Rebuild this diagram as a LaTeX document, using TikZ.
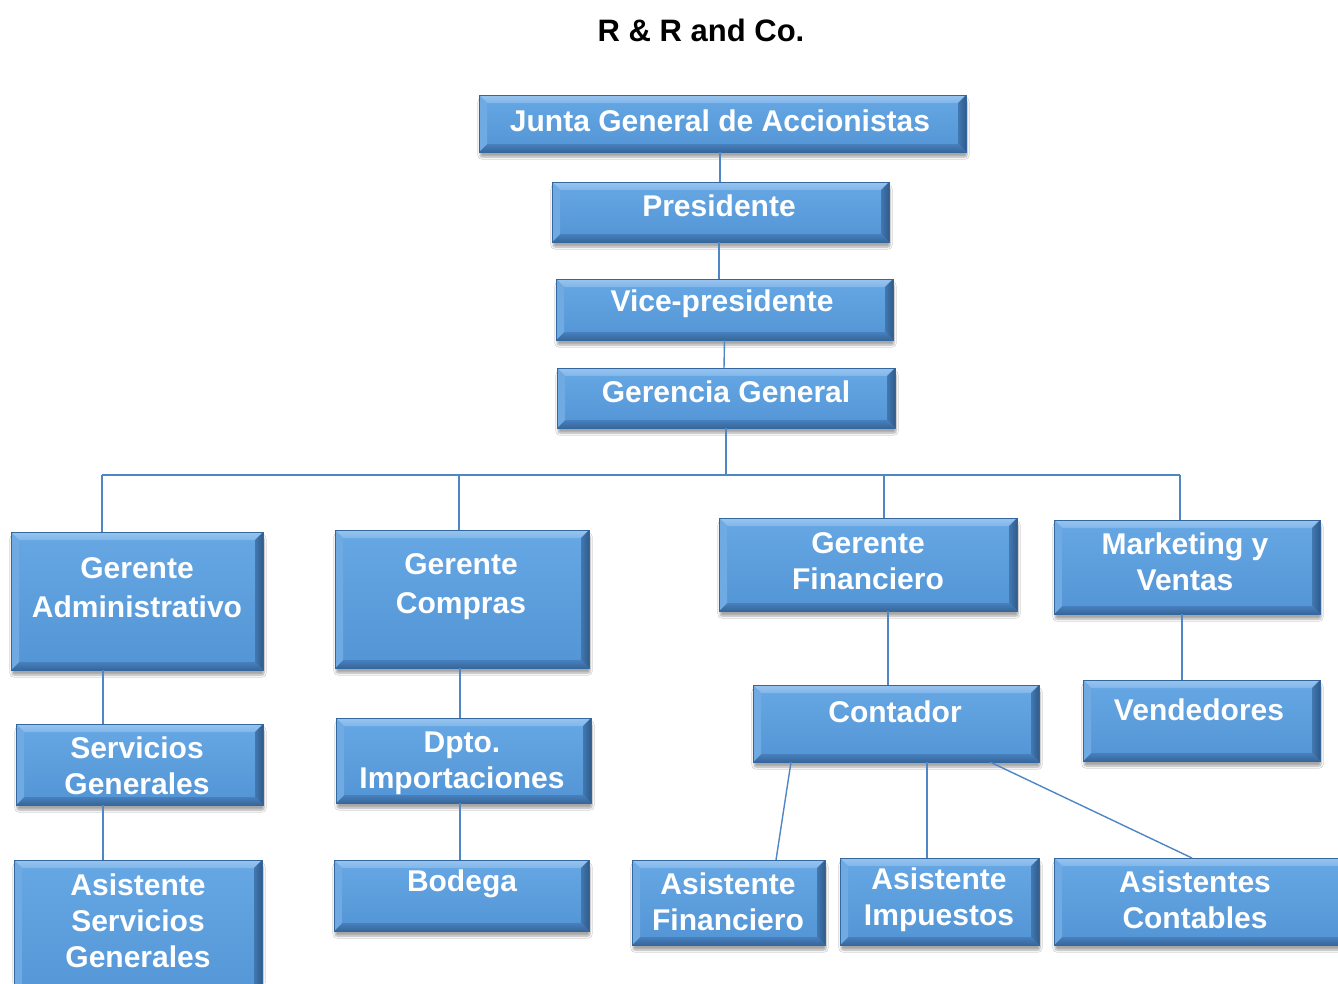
\documentclass[tikz,border=0pt]{standalone}
\usepackage{fontspec}
\setmainfont{Liberation Sans}
\usetikzlibrary{shadows,shadows.blur}
\definecolor{boxfill}{HTML}{5C9DDB}
\definecolor{facetop}{HTML}{66A7E4}
\definecolor{facebot}{HTML}{5394D5}
\definecolor{bevtop}{HTML}{80B6EA}
\definecolor{bevleft}{HTML}{70AAE3}
\definecolor{bevbot}{HTML}{4680BE}
\definecolor{bevright}{HTML}{3A6CA3}
\definecolor{edgecol}{HTML}{33679E}
\definecolor{conn}{HTML}{4F86C6}
\tikzset{
  box/.style={rectangle, inner sep=0pt, outer sep=0pt, fill=boxfill,
    draw=edgecol, line width=0.6pt,
    blur shadow={shadow xshift=1pt, shadow yshift=-5pt, shadow blur steps=6, shadow blur extra rounding=2pt, shadow opacity=35},
    path picture={
      \coordinate (NW) at (path picture bounding box.north west);
      \coordinate (NE) at (path picture bounding box.north east);
      \coordinate (SW) at (path picture bounding box.south west);
      \coordinate (SE) at (path picture bounding box.south east);
      \shade[top color=facetop, bottom color=facebot] (NW) rectangle (SE);
      \shade[top color=bevtop!80!white, bottom color=bevtop] (NW) -- (NE) -- ([shift={(-8pt,-8pt)}]NE) -- ([shift={(8pt,-8pt)}]NW) -- cycle;
      \shade[left color=bevright!70!facebot, right color=bevright!85!black] (NE) -- (SE) -- ([shift={(-8pt,8pt)}]SE) -- ([shift={(-8pt,-8pt)}]NE) -- cycle;
      \shade[top color=bevbot, bottom color=bevbot!80!black] (SE) -- (SW) -- ([shift={(8pt,8pt)}]SW) -- ([shift={(-8pt,8pt)}]SE) -- cycle;
      \fill[bevleft] (SW) -- (NW) -- ([shift={(8pt,-8pt)}]NW) -- ([shift={(8pt,8pt)}]SW) -- cycle;
    }},
  txt/.style={text=white, font=\bfseries\fontsize{30}{36}\selectfont, align=center, inner sep=0pt},
  txtwide/.style={txt, font=\bfseries\fontsize{30}{39}\selectfont},
  titletxt/.style={text=black, font=\bfseries\fontsize{31}{34}\selectfont, inner sep=0pt},
  link/.style={draw=conn, line width=1.4pt}
}
\begin{document}
\begin{tikzpicture}[x=1pt,y=-1pt]
\clip (0,0) rectangle (1338,983);
\fill[white] (0,0) rectangle (1338,983);

\node[titletxt] (title) at (701,30) {R \& R and Co.};

\coordinate (bus) at (726,475);
\coordinate (d1) at (102,475);
\coordinate (d2) at (459,475);
\coordinate (d3) at (884,475);
\coordinate (d4) at (1180,475);

% boxes
\node[box, minimum width=487pt, minimum height=57pt] (junta) at (722.5,123.5) {};
\node[box, minimum width=337pt, minimum height=60pt] (pres) at (720.5,212) {};
\node[box, minimum width=337pt, minimum height=61pt] (vice) at (724.5,309.5) {};
\node[box, minimum width=338pt, minimum height=60pt] (ger) at (726,398) {};
\node[box, minimum width=252pt, minimum height=138pt] (adm) at (137,601) {};
\node[box, minimum width=254pt, minimum height=138pt] (comp) at (462,599) {};
\node[box, minimum width=298pt, minimum height=93pt] (fin) at (868,564.5) {};
\node[box, minimum width=266pt, minimum height=94pt] (mkt) at (1187,567) {};
\node[box, minimum width=247pt, minimum height=81pt] (serv) at (139.5,764.5) {};
\node[box, minimum width=255pt, minimum height=85pt] (dpto) at (463.5,760.5) {};
\node[box, minimum width=286pt, minimum height=77pt] (cont) at (896,723.5) {};
\node[box, minimum width=237pt, minimum height=81pt] (vend) at (1201.5,720.5) {};
\node[box, minimum width=248pt, minimum height=150pt] (asg) at (138,935) {};
\node[box, minimum width=255pt, minimum height=71pt] (bod) at (461.5,895.5) {};
\node[box, minimum width=193pt, minimum height=85pt] (afin) at (728.5,902.5) {};
\node[box, minimum width=199pt, minimum height=87pt] (aimp) at (939.5,901.5) {};
\node[box, minimum width=292pt, minimum height=87pt] (acon) at (1200,901.5) {};

% connectors
\draw[link] ([xshift=-2.5pt]junta.south) -- ([xshift=-0.5pt]pres.north);
\draw[link] ([xshift=-1.5pt]pres.south) -- ([xshift=-5.5pt]vice.north);
\draw[link] (vice.south) -- ([xshift=-2pt]ger.north);
\draw[link] (ger.south) -- (bus);
\draw[link] (d1) -- (d4);
\draw[link] (d1) -- (d1 |- adm.north);
\draw[link] (d2) -- (d2 |- comp.north);
\draw[link] (d3) -- (d3 |- fin.north);
\draw[link] (d4) -- (d4 |- mkt.north);
\draw[link] ([xshift=-34pt]adm.south) -- ([xshift=-36.5pt]serv.north);
\draw[link] ([xshift=-36.5pt]serv.south) -- ([xshift=-35pt]asg.north);
\draw[link] ([xshift=-2pt]comp.south) -- ([xshift=-3.5pt]dpto.north);
\draw[link] ([xshift=-3.5pt]dpto.south) -- ([xshift=-1.5pt]bod.north);
\draw[link] ([xshift=20pt]fin.south) -- ([xshift=-8pt]cont.north);
\draw[link] ([xshift=-5pt]mkt.south) -- ([xshift=-19.5pt]vend.north);
\draw[link] ([xshift=-105pt]cont.south) -- ([xshift=47.5pt]afin.north);
\draw[link] ([xshift=31pt]cont.south) -- ([xshift=-12.5pt]aimp.north);
\draw[link] ([xshift=94pt]cont.south) -- ([xshift=-8pt]acon.north);

% texts
\node[txt] (junta-t) at (720,121) {Junta General de Accionistas};
\node[txt] (pres-t) at (719,206) {Presidente};
\node[txt] (vice-t) at (722,304) {Vice-presidente};
\node[txt] (ger-t) at (726,392) {Gerencia General};
\node[txtwide] (adm-t) at (137,588) {Gerente\\Administrativo};
\node[txtwide] (comp-t) at (461,587) {Gerente\\Compras};
\node[txt] (fin-t) at (868,561) {Gerente\\Financiero};
\node[txt] (mkt-t) at (1185,562) {Marketing y\\Ventas};
\node[txt] (serv-t) at (137,766) {Servicios\\Generales};
\node[txt] (dpto-t) at (462,763) {Dpto.\\Importaciones};
\node[txt] (cont-t) at (895,712) {Contador};
\node[txt] (vend-t) at (1199,710) {Vendedores};
\node[txt] (asg-t) at (138,921) {Asistente\\Servicios\\Generales};
\node[txt] (bod-t) at (462,884) {Bodega};
\node[txt] (afin-t) at (728,902) {Asistente\\Financiero};
\node[txt] (aimp-t) at (939,900) {Asistente\\Impuestos};
\node[txt] (acon-t) at (1195,900) {Asistentes\\Contables};
\end{tikzpicture}
\end{document}
